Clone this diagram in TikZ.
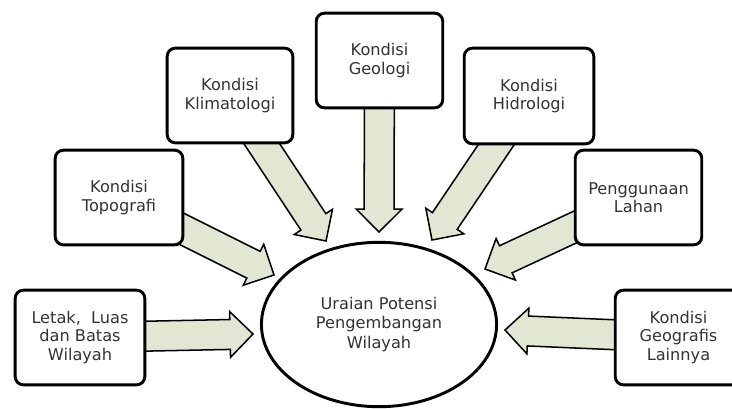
\documentclass[tikz,border=0pt]{standalone}
\usepackage{fontspec}
\setmainfont{DejaVu Sans}
\usetikzlibrary{shapes.geometric,backgrounds,calc}
\definecolor{arrowfill}{HTML}{E1E7D3}
\definecolor{txt}{HTML}{333333}
\tikzset{
  box/.style={draw=black, line width=2.5pt, rounded corners=7pt, fill=white,
    minimum height=80.8pt, align=center, text=txt, inner sep=0pt,
    font=\fontsize{13.8}{15.5}\selectfont},
  hub/.style={ellipse, draw=black, line width=2.5pt, fill=white, align=center,
    text=txt, inner sep=0pt, minimum width=200.7pt, minimum height=140.3pt,
    font=\fontsize{13.8}{16.5}\selectfont},
  fatarrow/.style={draw=black, line width=1.3pt, fill=arrowfill, line join=miter}
}
\newcommand\blockarrow[2]{%
  \path let \p1=(#1.center), \p2=(#2) in
    \pgfextra{%
      \pgfmathsetmacro\baA{atan2(\y2-\y1,\x2-\x1)}%
      \pgfmathsetmacro\baL{veclen(\x2-\x1,\y2-\y1)}%
      \pgfmathsetmacro\baB{\baL-19.56}%
      \xdef\gbaA{\baA}\xdef\gbaL{\baL}\xdef\gbaB{\baB}};
  \draw[fatarrow, shift={(#1.center)}, rotate=\gbaA]
    (0pt,12.76pt) -- (\gbaB pt,12.76pt) -- (\gbaB pt,19.56pt) -- (\gbaL pt,0pt)
    -- (\gbaB pt,-19.56pt) -- (\gbaB pt,-12.76pt) -- (0pt,-12.76pt) -- cycle;
}
\begin{document}
\begin{tikzpicture}[x=0.03cm, y=-0.03cm]
\useasboundingbox (0,0) rectangle (732,408);

\node[box, minimum width=110.6pt] (letak) at (80,337.5) {Letak,\ \ Luas\\dan Batas\\Wilayah};
\node[box, minimum width=108.9pt] (topo) at (119,197.5) {Kondisi\\Topografi};
\node[box, minimum width=107.2pt] (klim) at (230,95.5) {Kondisi\\Klimatologi};
\node[box, minimum width=108pt] (geo) at (379.5,60.5) {Kondisi\\Geologi};
\node[box, minimum width=110.6pt, minimum height=81.6pt] (hidro) at (529,96) {Kondisi\\Hidrologi};
\node[box, minimum width=108pt] (guna) at (638.5,197.5) {Penggunaan\\Lahan};
\node[box, minimum width=108pt] (geogr) at (678.5,337.5) {Kondisi\\Geografis\\Lainnya};

\node[hub] (hub) at (379,324.5) {Uraian Potensi\\Pengembangan\\Wilayah};

\coordinate (t1) at (253,334);
\coordinate (t2) at (274,275);
\coordinate (t3) at (326,241);
\coordinate (t4) at (379,232);
\coordinate (t5) at (432,240);
\coordinate (t6) at (485,269);
\coordinate (t7) at (505,330);

\begin{scope}[on background layer]
  \fill[white] (0,0) rectangle (732,408);
  \blockarrow{letak}{t1}
  \blockarrow{topo}{t2}
  \blockarrow{klim}{t3}
  \blockarrow{geo}{t4}
  \blockarrow{hidro}{t5}
  \blockarrow{guna}{t6}
  \blockarrow{geogr}{t7}
\end{scope}
\end{tikzpicture}
\end{document}
